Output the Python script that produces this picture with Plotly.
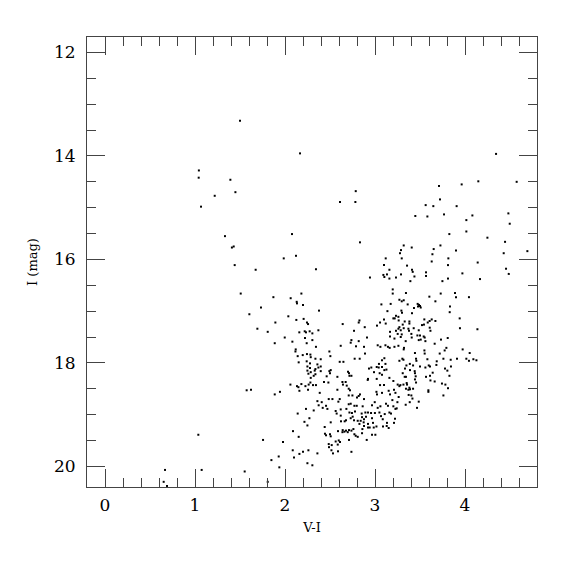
import plotly.graph_objects as go

pts = """
1.043,14.28 1.041,14.42 1.393,14.46 1.449,14.70 1.219,14.77 1.067,14.98 1.333,15.55 1.41,15.77 1.43,15.75 1.50,13.32
1.441,16.11 1.037,19.39 0.667,20.07 1.074,20.07 0.652,20.30 0.689,20.38
2.167,13.95 2.786,14.68 2.611,14.89 2.782,14.89 2.078,15.51 2.833,15.67 1.986,15.98 2.122,15.93 3.119,15.98
4.345,13.96 4.148,14.49 4.574,14.50 3.963,14.55 3.711,14.58 3.722,14.84 3.563,14.95 3.648,14.97 3.907,14.97 3.448,15.16
3.582,15.17 3.767,15.13 4.082,15.15 4.482,15.11 4.015,15.24 4.497,15.31 3.826,15.51 4.015,15.46 4.249,15.58 4.445,15.66
3.319,15.73 3.408,15.77 3.289,15.82 3.652,15.80 3.727,15.73 3.90,15.83 3.278,15.88 3.638,15.90 4.43,15.88 4.693,15.84
3.297,15.98 3.815,15.98
1.674,16.20 2.344,16.19 1.508,16.66 1.871,16.73 2.063,16.75 2.182,16.66 2.13,16.82 2.133,16.85 2.20,16.88 1.733,16.93
1.604,17.06 2.037,17.10 2.126,17.17 2.207,17.15 1.893,17.22 2.244,17.22 2.256,17.25 1.693,17.34 1.808,17.40 2.159,17.41
2.219,17.39 2.233,17.41 2.274,17.39 2.304,17.43 1.997,17.51 2.222,17.52 2.304,17.56 2.082,17.59 1.886,17.62 2.241,17.62
2.344,17.69 2.119,17.74 2.116,17.78 2.197,17.85 2.244,17.83 2.286,17.89 2.282,17.84 2.141,17.87 2.338,17.92 2.152,17.99
2.241,17.97 2.278,18.01 2.249,18.07 2.278,18.10 2.338,18.12 2.33,18.15 2.249,18.15 2.26,18.21 2.286,18.18 2.319,18.25
2.338,18.22 2.286,18.29
3.10,16.11 3.16,16.20 3.093,16.30 3.104,16.34 3.133,16.29 3.16,16.37 3.233,16.35 2.944,16.35 3.197,16.58 3.197,16.66
2.378,16.99 3.071,16.87 3.174,16.86 3.138,17.00 3.219,17.14 3.233,17.09 3.204,17.14 3.10,17.16 3.056,17.22 2.827,17.18
2.819,17.22 3.119,17.24 3.022,17.28 2.886,17.31 2.641,17.25 2.371,17.37 2.767,17.38 3.167,17.40 3.233,17.38 3.167,17.49
3.216,17.53 2.911,17.51 2.738,17.56 2.819,17.58 2.73,17.61 3.03,17.66 3.06,17.69 3.116,17.66 3.144,17.69 3.163,17.71
2.619,17.67 2.789,17.68 2.878,17.69 3.216,17.69 2.889,17.82 2.493,17.78 2.504,17.87 2.774,17.92 2.83,17.92 3.104,17.91
3.078,17.95 2.397,17.93 2.608,17.98 2.649,17.98 3.116,18.02 3.044,18.02 3.019,18.08 2.36,18.03 2.371,18.09 2.397,18.07
2.959,18.09 2.933,18.11 3.041,18.09 3.078,18.08 3.104,18.14 3.127,18.13 2.493,18.16 2.50,18.20 2.508,18.14 2.397,18.16
2.70,18.17 2.711,18.20 2.989,18.18 3.052,18.20 3.078,18.23 2.716,18.25 2.738,18.25 2.582,18.27 2.463,18.26 2.922,18.31
3.019,18.31 3.16,18.29
3.63,16.04 3.356,16.12 3.811,16.11 3.411,16.20 3.419,16.24 3.289,16.29 3.567,16.25 3.567,16.32 3.438,16.33 3.393,16.42
3.749,16.42 3.811,16.37 3.971,16.27 3.344,16.65 3.604,16.72 3.73,16.66 3.889,16.65 3.90,16.73 4.044,16.73 3.671,16.81
3.271,16.78 3.297,16.81 3.319,16.79 3.363,16.87 3.474,16.86 3.489,16.88 3.478,16.91 3.50,16.90 3.508,16.93 3.433,16.94
3.833,16.91 3.83,17.02 3.293,16.99 3.30,17.03 3.411,17.04 3.26,17.11 3.263,17.18 3.941,17.14 3.548,17.16 3.607,17.19
3.63,17.16 3.671,17.19 3.586,17.22 3.33,17.20 3.382,17.20 3.382,17.24 3.522,17.27 3.544,17.26 3.308,17.26 3.319,17.33
3.271,17.31 3.26,17.34 3.286,17.37 3.371,17.34 3.378,17.38 3.43,17.33 3.486,17.37 3.608,17.32 3.616,17.38 3.944,17.33
3.252,17.44 3.297,17.45 3.286,17.50 3.404,17.44 3.408,17.51 3.471,17.47 3.50,17.47 3.541,17.49 3.552,17.51 3.808,17.52
3.486,17.56 3.508,17.55 3.56,17.58 3.733,17.55 3.341,17.58 3.663,17.63 3.26,17.67 3.322,17.71 3.319,17.74 3.793,17.71
3.774,17.76 3.549,17.76 3.552,17.82 3.444,17.81 3.974,17.74 3.719,17.82 4.052,17.81 3.304,17.92 3.456,17.92 3.46,17.96
3.582,17.93 3.76,17.92 3.841,17.94 3.911,17.92 4.015,17.92 4.044,17.96 4.093,17.93 4.127,17.95 3.271,17.96 3.316,17.94
3.349,18.05 3.387,18.02 3.423,18.05 3.50,18.07 3.686,17.97 3.682,18.04 3.597,18.05 3.778,18.11 3.804,18.15 3.333,18.11
3.308,18.20 3.389,18.14 3.441,18.16 3.444,18.20 3.452,18.26 3.56,18.09 3.611,18.07 3.641,18.19 3.827,18.25 3.844,18.07
3.33,18.27 3.344,18.27 3.567,18.27 3.611,18.25
4.141,16.06 4.456,16.18 4.486,16.28 4.167,16.38 4.138,17.35
1.574,18.53 1.622,18.52 1.886,18.61 1.944,18.56 2.06,18.42 2.133,18.45 2.149,18.47 2.182,18.41 2.16,18.54 2.227,18.45
2.256,18.52 2.263,18.42 2.282,18.38 2.311,18.43 2.344,18.43 2.233,18.89 2.319,18.92 2.141,18.98 2.271,19.07 2.216,19.14
2.249,19.21 2.089,19.32 2.152,19.43 1.756,19.49 1.978,19.53 2.086,19.69 2.16,19.76 2.20,19.72 2.26,19.69 1.93,19.81
2.10,19.83 1.849,19.88 2.249,19.94 2.304,19.98 1.937,20.02 1.552,20.10 1.808,20.30
2.433,18.37 2.482,18.38 2.638,18.37 2.674,18.37 2.644,18.42 2.686,18.44 2.919,18.33 3.056,18.43 3.10,18.43 3.204,18.35
2.582,18.52 2.708,18.50 2.722,18.53 2.386,18.58 3.016,18.56 3.022,18.61 3.078,18.58 3.152,18.54 3.167,18.61 3.211,18.52
3.227,18.58 2.708,18.63 2.749,18.63 2.80,18.67 2.819,18.64 2.833,18.61 2.486,18.70 2.527,18.70 2.36,18.74 2.408,18.76
2.593,18.75 2.608,18.70 2.878,18.70 2.997,18.76 3.193,18.72 2.708,18.80 2.73,18.79 2.771,18.83 2.797,18.83 2.863,18.84
2.967,18.82 3.122,18.79 3.144,18.83 3.204,18.84 2.374,18.82 2.419,18.87 2.456,18.83 2.471,18.89 2.619,18.90 2.682,18.89
3.03,18.87 3.06,18.84 3.227,18.89 2.563,18.93 2.574,18.98 2.716,18.96 2.744,18.97 2.778,18.94 2.852,18.98 2.893,18.96
2.922,18.96 2.956,18.97 2.999,18.97 3.049,18.96 3.108,18.99 3.16,18.96 3.178,18.98 2.619,19.02 2.73,19.07 2.752,19.04
2.767,19.11 2.856,19.05 2.878,19.09 2.90,19.04 2.508,19.15 2.967,19.07 2.978,19.16 3.067,19.03 3.086,19.09 3.133,19.16
3.222,19.08 3.211,19.16 2.622,19.13 2.663,19.13 2.678,19.11 2.808,19.12 2.827,19.18 2.841,19.12 2.874,19.15 2.441,19.24
2.922,19.18 2.878,19.22 2.922,19.25 2.941,19.25 2.986,19.25 3.016,19.23 3.089,19.23 3.13,19.22 3.152,19.26 2.86,19.28
2.856,19.36 2.589,19.32 2.641,19.30 2.66,19.33 2.678,19.31 2.711,19.30 2.738,19.31 2.76,19.28 2.638,19.34 2.697,19.34
2.444,19.37 2.456,19.40 2.50,19.38 2.508,19.42 2.967,19.39 3.004,19.39 2.771,19.38 2.786,19.41 2.808,19.43 2.711,19.49
2.908,19.49 2.597,19.50 2.611,19.53 2.563,19.52 2.586,19.58 2.486,19.57 2.519,19.59 2.489,19.63 2.516,19.69 2.533,19.75
2.589,19.71 2.738,19.72 2.36,19.75
3.444,18.32 3.456,18.38 3.616,18.34 3.663,18.36 3.744,18.40 3.782,18.42 3.811,18.49 3.252,18.42 3.271,18.45 3.282,18.43
3.316,18.42 3.352,18.39 3.356,18.42 3.382,18.48 3.371,18.52 3.389,18.51 3.344,18.50 3.423,18.50 3.593,18.53 3.593,18.56
3.263,18.66 3.374,18.62 3.404,18.63 3.416,18.69 3.76,18.63 3.249,18.76 3.386,18.76 3.486,18.75 3.341,18.81 3.467,18.87
3.241,18.88
"""

vi = [float(p.split(",")[0]) for p in pts.split()]
imag = [float(p.split(",")[1]) for p in pts.split()]

x_ticks = [0, 1, 2, 3, 4]
y_ticks = [12, 14, 16, 18, 20]

FONT = "DejaVu Serif"
LINE = "#444444"

fig = go.Figure(go.Scatter(
    x=vi, y=imag, mode="markers",
    marker=dict(symbol="square", size=2, color="black", line=dict(width=0)),
    showlegend=False, hoverinfo="skip"))

common = dict(
    showline=True, linecolor=LINE, linewidth=1, mirror="allticks",
    ticks="inside", ticklen=18, tickwidth=1, tickcolor=LINE,
    showgrid=False, zeroline=False,
    tickfont=dict(family=FONT, size=17, color="black"),
)

fig.update_xaxes(
    range=[-0.2, 4.8], tickvals=x_ticks, ticklabelstandoff=3,
    minor=dict(dtick=0.2, ticklen=9, tickcolor=LINE, ticks="inside", showgrid=False),
    title=dict(text="V-I", font=dict(family=FONT, size=13, color="black"), standoff=8),
    **common)
fig.update_yaxes(
    range=[20.4, 11.7], tickvals=y_ticks, ticklabelstandoff=7,
    minor=dict(dtick=0.5, ticklen=9, tickcolor=LINE, ticks="inside", showgrid=False),
    title=dict(text="I (mag)", font=dict(family=FONT, size=13, color="black"), standoff=13),
    **common)

fig.update_layout(
    width=575, height=575,
    margin=dict(l=79, r=46, t=29, b=96),
    plot_bgcolor="white", paper_bgcolor="white",
)

fig.write_html("out.html")
